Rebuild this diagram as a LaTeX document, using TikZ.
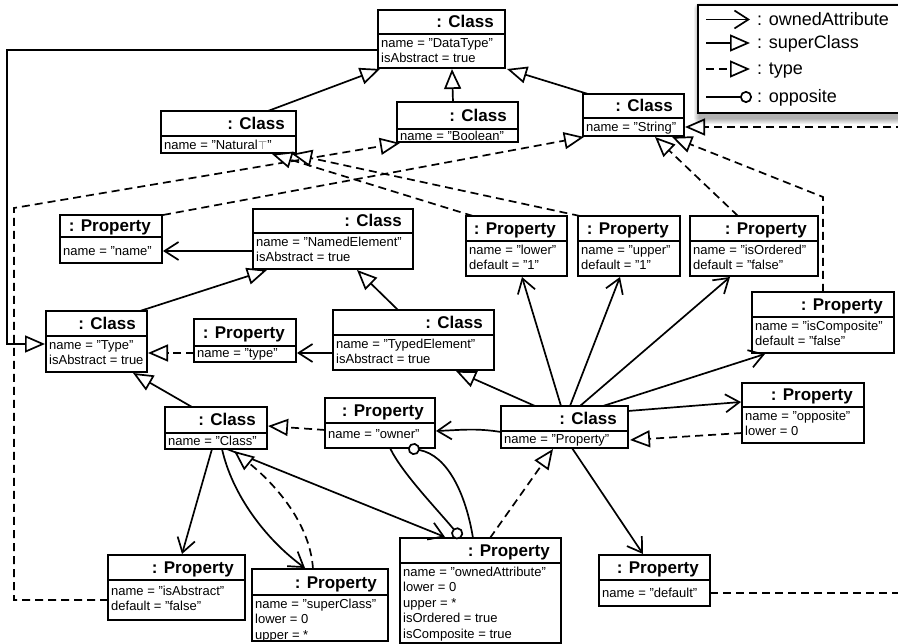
\documentclass[tikz,border=0pt]{standalone}
\usepackage{fontspec}
\setmainfont{Liberation Sans}
\newfontfamily\dvfont{DejaVu Sans}
\usetikzlibrary{arrows.meta,calc}

% #1 name, #2 x1, #3 y1, #4 x2, #5 header-line y, #6 y2, #7 header, #8 first baseline, #9 body
\newcommand\objnode[9]{%
  \node[objbox, minimum width={#4-#2}, minimum height={#6-#3}] (#1) at ({(#2+#4)/2},{(#3+#6)/2}) {};
  \draw[boxline] (#1.west |- 0,#5) -- (#1.east |- 0,#5);
  \node[hdrtext, anchor=base east] at ({#4-11},{(#3+#5)/2+6}) {#7};
  \node[bodytext, anchor=north west] at ({#2+3},{#8-10}) {\rule{0pt}{10pt}#9};
}

\begin{document}
\begin{tikzpicture}[x=1pt,y=-1pt,
  objbox/.style={draw, line width=2.2pt, rectangle, inner sep=0pt, outer sep=0pt, fill=white},
  boxline/.style={line width=2.2pt},
  hdrtext/.style={font=\fontsize{17}{20}\selectfont\bfseries, inner sep=0pt},
  bodytext/.style={font=\fontsize{13}{15.5}\selectfont, inner sep=0pt, align=left},
  legtext/.style={font=\fontsize{18}{20}\selectfont, inner sep=0pt, anchor=base west},
  conn/.style={line width=1.7pt},
  ownedarr/.style={conn, -{Straight Barb[length=14pt,width=18pt]}},
  supcls/.style={conn, -{Triangle[length=20pt,width=17pt,fill=white]}},
  typearr/.style={conn, dash pattern=on 8pt off 5pt, -{Triangle[length=20pt,width=17pt,fill=white]}},
  opparr/.style={conn, -{Circle[length=12pt,fill=white]}},
]
\useasboundingbox (0,0) rectangle (898,644);
\clip (0,0) rectangle (898,644);

% ---------- objects ----------
\objnode{dt}{378}{10}{505}{34}{68}{: Class}{47}{name = "DataType"\\isAbstract = true}
\objnode{nat}{161}{111}{296}{136}{153}{: Class}{149}{name = "Natural{\color{gray}\dvfont\fontsize{11}{13}\selectfont ⊤}"}
\objnode{bool}{397}{102}{518}{129}{142}{: Class}{140}{name = "Boolean"}
\objnode{str}{583}{94}{684}{118}{136}{: Class}{131.5}{name = "String"}
\objnode{pname}{60}{215}{162}{237}{263}{: Property}{255}{name = "name"}
\objnode{ne}{253}{209}{413}{233}{269}{: Class}{246}{name = "NamedElement"\\isAbstract = true}
\objnode{pl}{466}{216}{567}{241}{276}{: Property}{254}{name = "lower"\\default = "1"}
\objnode{pu}{578}{216}{680}{241}{276}{: Property}{254}{name = "upper"\\default = "1"}
\objnode{po}{690}{216}{818}{241}{276}{: Property}{254}{name = "isOrdered"\\default = "false"}
\objnode{pc}{752}{292}{894}{317}{353}{: Property}{330}{name = "isComposite"\\default = "false"}
\objnode{ty}{46}{311}{147}{336}{372}{: Class}{349}{name = "Type"\\isAbstract = true}
\objnode{ptype}{194}{319}{296}{346}{362}{: Property}{357}{name = "type"}
\objnode{te}{333}{310}{494}{335}{370}{: Class}{348}{name = "TypedElement"\\isAbstract = true}
\objnode{cls}{165}{407}{267}{433}{449}{: Class}{445}{name = "Class"}
\objnode{pown}{325}{398}{435}{423}{448}{: Property}{438}{name = "owner"}
\objnode{cp}{501}{406}{628}{431}{448}{: Class}{443}{name = "Property"}
\objnode{popp}{742}{383}{864}{407}{443}{: Property}{420}{name = "opposite"\\lower = 0}
\objnode{pabs}{108}{555}{245}{580}{620}{: Property}{595}{name = "isAbstract"\\default = "false"}
\objnode{psc}{252}{569}{388}{595}{641}{: Property}{608}{name = "superClass"\\lower = 0\\upper = *}
\objnode{poa}{400}{538}{561}{563}{643}{: Property}{576}{name = "ownedAttribute"\\lower = 0\\upper = *\\isOrdered = true\\isComposite = true}
\objnode{pdef}{599}{555}{710}{580}{606}{: Property}{597}{name = "default"}

% ---------- free corners ----------
\coordinate (lc1) at (7,50);
\coordinate (lc2) at (14,600);
\coordinate (lc3) at (14,208);
\coordinate (lc4) at (823,197);
\coordinate (rc1) at (912,593);
\coordinate (rc2) at (912,127);

% ---------- superClass ----------
\draw[supcls] ($(nat.north west)+(107,0)$) -- ($(dt.south west)+(2,1)$);
\draw[supcls] ($(bool.north west)+(56,0)$) -- ($(dt.south west)+(74,1)$);
\draw[supcls] ($(str.north west)+(5,0)$) -- ($(dt.south east)+(2,1)$);
\draw[supcls] ($(ty.north west)+(94,0)$) -- ($(ne.south west)+(14,1)$);
\draw[supcls] ($(te.north west)+(65,0)$) -- ($(ne.south west)+(104,1)$);
\draw[supcls] ($(cls.north west)+(27,0)$) -- ($(ty.south west)+(87,1)$);
\draw[supcls] ($(cp.north west)+(34,0)$) -- ($(te.south west)+(123,1)$);
\draw[supcls] ($(dt.north west)+(0,40)$) -- (lc1) |- ($(ty.north west)+(-1,33)$);

% ---------- ownedAttribute ----------
\draw[ownedarr] ($(ne.north west)+(0,42)$) -- ($(pname.north east)+(1,36)$);
\draw[ownedarr] ($(te.north west)+(0,43)$) -- ($(ptype.north east)+(1,34)$);
\draw[ownedarr] ($(cp.north west)+(60,0)$) -- ($(pl.south west)+(56,1)$);
\draw[ownedarr] ($(cp.north west)+(69,0)$) -- ($(pu.south west)+(42,1)$);
\draw[ownedarr] ($(cp.north west)+(79,0)$) -- ($(po.south west)+(40,1)$);
\draw[ownedarr] ($(cp.north west)+(102,0)$) -- ($(pc.south west)+(13,1)$);
\draw[ownedarr] ($(cp.north east)+(0,5)$) -- ($(popp.north west)+(-1,19)$);
\draw[ownedarr] ($(cp.north west)+(0,26)$) .. controls +(-25,-4) and +(25,-1) .. ($(pown.north east)+(1,33)$);
\draw[ownedarr] ($(cp.south west)+(71,0)$) -- ($(pdef.north west)+(44,-1)$);
\draw[ownedarr] ($(cls.south west)+(47,0)$) -- ($(pabs.north west)+(74,-1)$);
\draw[ownedarr] ($(cls.south west)+(57,0)$) .. controls +(10,45) and +(-40,-29) .. ($(psc.north west)+(53,-1)$);
\draw[ownedarr] ($(cls.south west)+(62,0)$) -- ($(poa.north west)+(45,-1)$);

% ---------- type ----------
\draw[typearr] ($(ptype.north west)+(0,34)$) -- ($(ty.north east)+(1,42)$);
\draw[typearr] ($(pown.north west)+(0,32)$) -- ($(cls.north east)+(1,19)$);
\draw[typearr] ($(popp.north west)+(0,50)$) -- ($(cp.north east)+(2,34)$);
\draw[typearr] ($(psc.north west)+(61,0)$) .. controls +(-3,-49) and +(36,29) .. ($(cls.south west)+(69,2)$);
\draw[typearr] ($(poa.north west)+(90,0)$) -- ($(cp.south west)+(52,1)$);
\draw[typearr] ($(pname.north east)+(1,0)$) -- ($(str.south west)+(1,1)$);
\draw[typearr] ($(pabs.north west)+(0,45)$) -- (lc2) -- (lc3) -- ($(bool.south west)+(3,1)$);
\draw[typearr] ($(pl.north west)+(7,0)$) -- ($(nat.south east)+(-24,1)$);
\draw[typearr] ($(pu.north west)+(2,0)$) -- ($(nat.south east)+(-4,1)$);
\draw[typearr] ($(po.north west)+(48,0)$) -- ($(str.south west)+(72,1)$);
\draw[typearr] ($(pc.north west)+(71,0)$) -- (lc4) -- ($(str.south west)+(89,1)$);
\draw[typearr] ($(pdef.north east)+(0,38)$) -- (rc1) -- (rc2) -- ($(str.north east)+(1,33)$);

% ---------- opposite ----------
\draw[opparr] ($(pown.south west)+(65,0)$) .. controls +(12,25) and +(-25,-30) .. ($(poa.north west)+(61,0)$);
\draw[opparr] ($(poa.north west)+(73,0)$) .. controls +(-7,-43) and +(40,7) .. ($(pown.south west)+(83,0)$);

% ---------- legend ----------
\foreach \i in {1,...,6} {
  \fill[black, opacity=0.06, rounded corners=\i pt] ({700-\i},{9-\i}) rectangle ({910+\i},{118+\i});
}
\node[objbox, minimum width=207, minimum height=108] (leg) at (801.5,59) {};
\draw[ownedarr] ($(leg.north west)+(8,14.5)$) -- ($(leg.north west)+(52,14.5)$);
\draw[supcls]   ($(leg.north west)+(8,38)$)   -- ($(leg.north west)+(52,38)$);
\draw[typearr]  ($(leg.north west)+(8,64)$)   -- ($(leg.north west)+(52,64)$);
\draw[opparr]   ($(leg.north west)+(8,92)$)   -- ($(leg.north west)+(54,92)$);
\node[legtext] (l1) at ($(leg.north west)+(59,20.5)$) {: ownedAttribute};
\node[legtext] (l2) at ($(leg.north west)+(59,44)$) {: superClass};
\node[legtext] (l3) at ($(leg.north west)+(59,70)$) {: type};
\node[legtext] (l4) at ($(leg.north west)+(59,98)$) {: opposite};
\end{tikzpicture}
\end{document}
